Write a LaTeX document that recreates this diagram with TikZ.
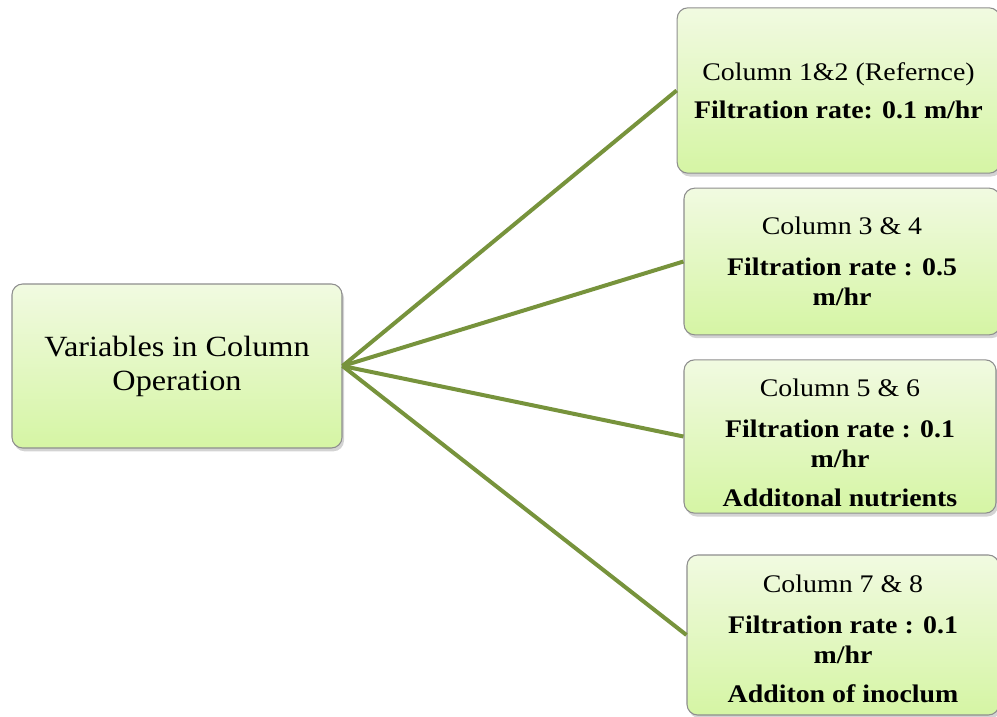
\documentclass[tikz,border=0pt]{standalone}
\usepackage{fontspec}
\setmainfont{Liberation Serif}[FakeStretch=1.1]
\usetikzlibrary{shadows}

\definecolor{boxtop}{HTML}{F1FAE1}
\definecolor{boxbot}{HTML}{D5F5A4}
\definecolor{boxline}{HTML}{8E8E8E}
\definecolor{branchgreen}{HTML}{77933C}

\tikzset{
  varbox/.style={draw=boxline, line width=0.8pt, rounded corners=8pt,
    top color=boxtop, bottom color=boxbot,
    drop shadow={opacity=0.35, shadow xshift=1.5pt, shadow yshift=-2.5pt},
    align=flush center, inner sep=0pt},
  colbox/.style={varbox, text width=230pt, font=\fontsize{19}{22.5}\selectfont},
  branch/.style={draw=branchgreen, line width=3pt}
}

\begin{document}
\begin{tikzpicture}[x=0.75pt, y=-0.75pt]
\useasboundingbox (0,0) rectangle (997,717);
\node [varbox, minimum width=247.5pt, minimum height=123pt,
  font=\fontsize{22}{25.5}\selectfont] (vars) at (177,366)
  {Variables in Column\\Operation};
\node [colbox, minimum width=242pt, minimum height=124pt] (col12) at (838.5,90.5)
  {Column 1\&2 (Refernce)\\[6pt] \textbf{Filtration rate: 0.1 m/hr}};
\node [colbox, minimum width=237pt, minimum height=110pt] (col34) at (842,261.5)
  {Column 3 \& 4\\[8pt] \textbf{Filtration rate : 0.5}\\ \textbf{m/hr}};
\node [colbox, minimum width=234pt, minimum height=115pt] (col56) at (840,436.5)
  {\rule{0pt}{23pt}Column 5 \& 6\\[8pt] \textbf{Filtration rate : 0.1}\\ \textbf{m/hr}\\[7pt]
   \textbf{Additonal nutrients}};
\node [colbox, minimum width=234pt, minimum height=120pt] (col78) at (843,635)
  {\rule{0pt}{19pt}Column 7 \& 8\\[8pt] \textbf{Filtration rate : 0.1}\\ \textbf{m/hr}\\[7pt]
   \textbf{Additon of inoclum}};
\draw [branch] (vars.east) -- (col12.west);
\draw [branch] (vars.east) -- (col34.west);
\draw [branch] (vars.east) -- (col56.west);
\draw [branch] (vars.east) -- (col78.west);
\end{tikzpicture}
\end{document}
